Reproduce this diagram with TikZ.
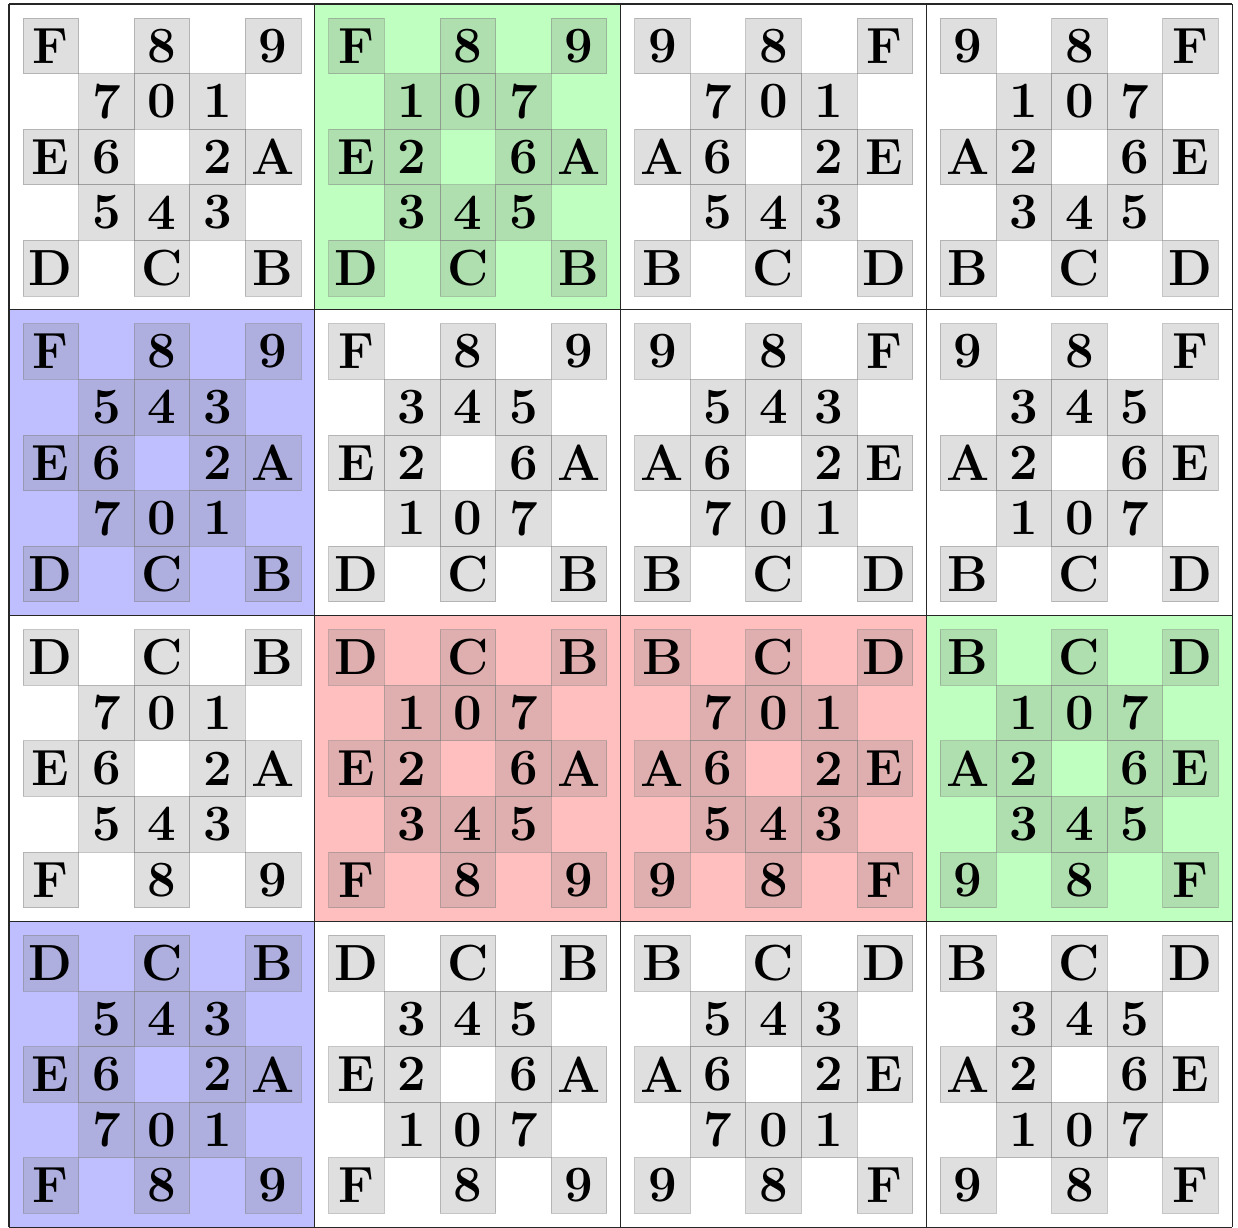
\documentclass[tikz,border=0pt]{standalone}
\usepackage{fontspec}
\tikzset{
  cellbox/.style={draw=gray, draw opacity=0.45, fill=gray, fill opacity=0.25, text opacity=1,
    minimum size=1cm, inner sep=0pt, line width=0.4pt,
    font=\fontsize{26}{30}\selectfont\bfseries},
  panelgrid/.style={draw=black!85, line width=0.6pt}
}
\begin{document}
\begin{tikzpicture}
\useasboundingbox (-0.162,0.072) rectangle (22.104,-22.014);
\foreach \pr/\pc/\bg/\ohf/\ovf/\ihf/\ivf in {
  1/1/white/0/0/0/0, 1/2/green!25/0/0/1/0, 1/3/white/1/0/0/0, 1/4/white/1/0/1/0,
  2/1/blue!25/0/0/0/1, 2/2/white/0/0/1/1, 2/3/white/1/0/0/1, 2/4/white/1/0/1/1,
  3/1/white/0/1/0/0, 3/2/red!25/0/1/1/0, 3/3/red!25/1/1/0/0, 3/4/green!25/1/1/1/0,
  4/1/blue!25/0/1/0/1, 4/2/white/0/1/1/1, 4/3/white/1/1/0/1, 4/4/white/1/1/1/1}{
  \pgfmathsetmacro\px{(\pc-1)*5.5}
  \pgfmathsetmacro\py{-(\pr-1)*5.5}
  \fill[\bg] (\px,\py) rectangle ++(5.5,-5.5);
  \foreach \ch/\cx/\cy in {F/0/0,8/2/0,9/4/0,E/0/2,A/4/2,D/0/4,C/2/4,B/4/4}{
    \pgfmathsetmacro\xx{\px+0.75+\cx+\ohf*(4-2*\cx)}
    \pgfmathsetmacro\yy{\py-0.75-\cy-\ovf*(4-2*\cy)}
    \node[cellbox] (p\pr\pc-\ch) at (\xx,\yy) {\ch};
  }
  \foreach \ch/\cx/\cy in {7/1/1,0/2/1,1/3/1,6/1/2,2/3/2,5/1/3,4/2/3,3/3/3}{
    \pgfmathsetmacro\xx{\px+0.75+\cx+\ihf*(4-2*\cx)}
    \pgfmathsetmacro\yy{\py-0.75-\cy-\ivf*(4-2*\cy)}
    \node[cellbox] (p\pr\pc-\ch) at (\xx,\yy) {\ch};
  }
}
\foreach \k in {0,1,2,3,4}{
  \draw[panelgrid] (\k*5.5,0) -- (\k*5.5,-22);
  \draw[panelgrid] (0,-\k*5.5) -- (22,-\k*5.5);
}
\end{tikzpicture}
\end{document}
